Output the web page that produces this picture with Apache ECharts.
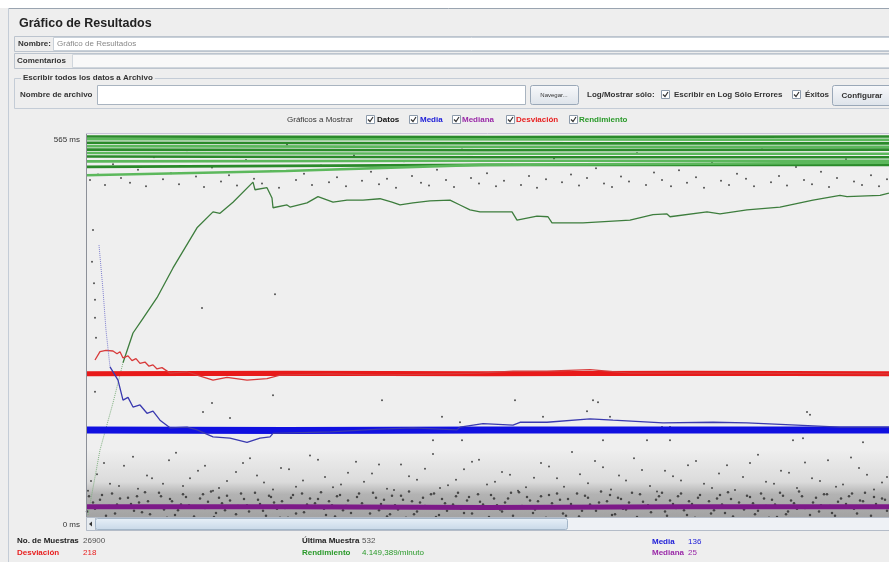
<!DOCTYPE html>
<html>
<head>
<meta charset="utf-8">
<title>Gráfico de Resultados</title>
<script src="https://cdn.jsdelivr.net/npm/echarts/dist/echarts.min.js"></script>
<style>body{margin:0;background:#eeeeee}</style>
</head>
<body>
<div id="main" style="width: 889px; height: 562px;"></div>
<script type="text/javascript">
// muestras (eje x, 0..803) y tiempos en ms (eje y, 0..565)
var ejeMax = 565;
var muestrasMax = 803;

// puntos negros (Datos)
var datosBajos = [[3,40],[9,22],[14,35],[20,12],[26,44],[31,28],[37,8],[42,38],[48,19],[53,31],[59,46],[64,14],[70,25],[75,40],[81,9],[86,33],[92,20],[97,43],[103,27],[108,11],[114,37],[119,23],[125,47],[130,16],[136,30],[141,41],[147,7],[152,26],[158,36],[163,18],[169,45],[174,29],[180,12],[185,39],[191,22],[196,33],[202,9],[207,42],[213,25],[218,17],[224,37],[229,30],[235,46],[240,13],[246,27],[251,40],[257,20],[262,34],[268,8],[273,44],[279,24],[284,15],[290,38],[295,29],[301,11],[306,41],[312,21],[317,35],[323,47],[328,14],[334,31],[339,26],[345,43],[350,10],[356,36],[361,19],[367,28],[372,45],[378,16],[383,39],[389,23],[394,32],[400,7],[405,42],[411,27],[416,18],[422,37],[427,12],[433,46],[438,25],[444,34],[449,21],[455,40],[460,9],[466,30],[471,44],[477,15],[482,36],[488,24],[493,11],[499,41],[504,28],[510,19],[515,47],[521,33],[526,13],[532,38],[537,22],[543,31],[548,8],[554,43],[559,26],[565,17],[570,35],[576,45],[581,12],[587,29],[592,40],[598,20],[603,33],[609,9],[614,42],[620,24],[625,15],[631,37],[636,28],[642,46],[647,11],[653,31],[658,21],[664,39],[669,14],[675,44],[680,26],[686,35],[691,10],[697,41],[702,18],[708,30],[713,47],[719,23],[724,13],[730,38],[735,27],[741,43],[746,16],[752,32],[757,8],[763,40],[768,22],[774,34],[779,45],[785,12],[790,29],[796,37],[801,19]];
var datosBajos2 = [[1,18],[7,31],[12,6],[16,42],[23,26],[29,15],[34,37],[40,4],[45,29],[51,40],[56,17],[62,33],[67,8],[73,45],[78,21],[84,36],[89,13],[95,28],[100,39],[106,5],[111,24],[117,43],[122,32],[128,10],[133,38],[139,20],[144,34],[150,14],[155,44],[161,27],[166,6],[172,35],[177,19],[183,41],[188,31],[194,9],[199,23],[205,38],[210,15],[216,44],[221,28],[227,5],[232,36],[238,22],[243,33],[249,11],[254,42],[260,26],[265,16],[271,39],[276,30],[282,7],[287,45],[293,20],[298,35],[304,14],[309,27],[315,41],[320,9],[326,33],[331,18],[337,38],[342,24],[348,44],[353,13],[359,30],[364,6],[370,40],[375,22],[381,34],[386,15],[392,43],[397,28],[403,10],[408,37],[414,21],[419,31],[425,45],[430,8],[436,26],[441,39],[447,16],[452,33],[458,5],[463,42],[469,23],[474,35],[480,12],[485,29],[491,44],[496,19],[502,38],[507,7],[513,31],[518,25],[524,42],[529,14],[535,36],[540,21],[546,45],[551,10],[557,32],[562,27],[568,6],[573,40],[579,18],[584,34],[590,23],[595,44],[601,13],[606,29],[612,38],[617,8],[623,33],[628,20],[634,42],[639,16],[645,36],[650,25],[656,5],[661,41],[667,30],[672,19],[678,37],[683,9],[689,28],[694,45],[700,14],[705,34],[711,22],[716,40],[722,7],[727,31],[733,18],[738,43],[744,26],[749,12],[755,37],[760,29],[766,44],[771,15],[777,33],[782,6],[788,39],[793,24],[799,35]];
var datosMedios = [[5,62],[18,88],[33,55],[47,97],[61,70],[77,58],[90,103],[104,66],[119,84],[133,52],[150,75],[164,95],[178,60],[195,81],[210,54],[224,99],[239,68],[255,57],[270,90],[286,73],[301,51],[315,86],[331,64],[347,101],[362,56],[378,79],[393,93],[409,61],[424,71],[440,53],[455,88],[471,66],[486,104],[502,59],[517,82],[533,70],[548,95],[564,55],[579,77],[595,63],[610,91],[626,52],[641,85],[657,68],[672,100],[688,58],[703,74],[719,89],[734,62],[750,54],[765,96],[781,71],[796,60]];
var datosMedios2 = [[2,48],[11,72],[24,58],[38,84],[52,51],[66,66],[83,92],[97,55],[112,77],[127,48],[141,62],[157,88],[171,70],[187,50],[203,79],[217,63],[232,93],[247,53],[262,74],[278,61],[293,86],[308,49],[323,69],[339,80],[354,52],[370,64],[386,90],[401,57],[416,75],[432,48],[448,67],[463,83],[478,54],[494,72],[509,91],[525,50],[540,63],[556,78],[571,47],[587,69],[602,85],[618,58],[633,73],[649,49],[664,88],[680,61],[695,77],[711,52],[726,66],[742,92],[757,57],[773,81],[788,50],[801,68]];
var datosDispersos = [[7,425],[6,379],[8,348],[9,324],[9,298],[10,269],[9,191],[116,312],[189,332],[117,162],[126,175],[144,153],[187,186],[296,179],[429,179],[507,179],[512,176],[501,163],[721,162],[724,158],[356,155],[457,155],[524,155],[374,147],[576,140],[584,140],[717,124],[347,121],[376,121],[517,121],[561,121],[584,121],[707,121],[777,118]];
var datosAltos = [[4,497],[12,505],[19,490],[27,520],[35,500],[44,493],[52,512],[60,488],[68,530],[77,498],[85,507],[93,491],[101,540],[110,502],[118,487],[126,515],[135,495],[143,504],[151,489],[160,526],[168,499],[176,492],[185,510],[193,486],[201,548],[210,497],[218,506],[226,490],[235,518],[243,494],[251,501],[260,488],[268,533],[276,496],[285,509],[293,491],[301,499],[310,486],[318,524],[326,503],[335,493],[343,489],[351,512],[360,497],[368,487],[376,541],[385,500],[393,492],[401,507],[410,488],[418,496],[426,519],[435,490],[443,503],[451,486],[460,498],[468,528],[476,494],[485,505],[493,489],[501,500],[510,514],[518,492],[526,487],[535,502],[543,495],[551,536],[560,490],[568,508],[576,497],[585,488],[593,511],[601,493],[610,501],[618,486],[626,522],[635,496],[643,490],[651,506],[660,499],[668,488],[676,544],[685,494],[693,503],[701,489],[710,516],[718,497],[726,491],[735,509],[743,487],[751,500],[760,527],[768,495],[776,490],[785,504],[793,488],[801,498]];

// bandas gruesas (pasadas repetidas)
var bandaDesviacion = [[0,217],[200,218],[400,217],[600,218],[803,217]];
var bandaMedia = [[0,136],[200,135],[400,136],[600,136],[803,136]];
var bandaMediana = [[0,25],[200,25],[400,24],[600,25],[803,25]];

// primera pasada
var desviacion = [[9,237],[14,249],[20,251],[27,250],[31,246],[34,249],[37,240],[42,243],[46,236],[50,239],[54,232],[59,234],[63,228],[67,230],[71,224],[76,226],[84,218],[101,220],[111,215],[127,208],[141,212],[161,208],[181,210],[194,215],[244,217],[294,215],[394,218],[427,221],[461,221],[504,223],[544,218],[594,218],[661,218],[803,217]];
var mediaInicio = [[13,403],[17,338],[20,280],[24,227]];
var media = [[24,227],[32,208],[37,179],[42,183],[47,169],[54,172],[61,160],[67,163],[74,150],[84,139],[101,140],[111,136],[127,126],[144,124],[161,118],[174,124],[184,126],[187,131],[244,133],[294,137],[327,139],[371,136],[374,140],[397,145],[427,143],[434,147],[461,147],[504,152],[527,150],[577,146],[627,147],[661,146],[711,143],[754,140],[803,140]];
var rendInicio = [[2,13],[14,107],[27,175],[37,233]];
var rendimiento = [[37,233],[47,276],[56,295],[71,327],[87,370],[111,428],[127,451],[134,449],[147,465],[167,494],[169,483],[181,486],[186,471],[187,457],[201,461],[204,458],[221,464],[232,473],[247,465],[261,468],[277,468],[294,470],[306,465],[314,461],[327,464],[344,467],[364,468],[374,461],[384,454],[394,451],[426,451],[431,439],[451,445],[462,444],[466,435],[497,435],[544,439],[567,447],[581,448],[584,444],[621,451],[634,448],[661,454],[694,458],[727,468],[754,475],[761,473],[794,475],[803,478]];

// pasadas del rendimiento arriba del todo
var rendPasadas = [
  [[0,560],[400,559],[803,560]],
  [[0,556],[300,556],[803,555]],
  [[0,551],[500,550],[803,550]],
  [[0,546],[400,545],[803,545]],
  [[0,541],[400,540],[803,541]],
  [[0,536],[400,535],[803,535]],
  [[0,531],[400,530],[803,530]],
  [[0,524],[400,525],[803,525]],
  [[0,516],[400,519],[803,519]],
  [[0,504],[200,510],[394,519],[803,522]]
];

var totales = {muestras: '26900', desviacion: '218', ultima: '532', rendimiento: '4.149,389/minuto', media: '136', mediana: '25'};

var fuente = '"Liberation Sans", Arial, sans-serif';

function texto(x, y, s, color, size, bold, extra) {
  var st = {text: s, fill: color || '#222', fontSize: size || 8, fontWeight: bold ? 'bold' : 'normal', fontFamily: fuente, verticalAlign: 'middle', align: 'left'};
  if (extra) for (var k in extra) st[k] = extra[k];
  return {type: 'text', x: x, y: y, z: 100, style: st};
}
function caja(x, y, w, h, fill, stroke, z) {
  return {type: 'rect', z: z || 50, shape: {x: x, y: y, width: w, height: h}, style: {fill: fill, stroke: stroke || null, lineWidth: 1}};
}
function linea(x1, y1, x2, y2, color) {
  return {type: 'line', z: 60, shape: {x1: x1, y1: y1, x2: x2, y2: y2}, style: {stroke: color, lineWidth: 1}};
}
function casilla(x, y) {
  return [
    caja(x + 0.5, y + 0.5, 8, 8, '#ffffff', '#8d9bab', 90),
    {type: 'polyline', z: 95, shape: {points: [[x + 2, y + 4.5], [x + 4, y + 6.5], [x + 7, y + 2]]}, style: {stroke: '#333', lineWidth: 1.2, fill: null}}
  ];
}
function boton(x, y, w, h, s, size) {
  return [
    {type: 'rect', z: 80, shape: {x: x + 0.5, y: y + 0.5, width: w, height: h, r: 2}, style: {
      fill: new echarts.graphic.LinearGradient(0, 0, 0, 1, [{offset: 0, color: '#f8f9fb'}, {offset: 1, color: '#dde3ea'}]),
      stroke: '#9aa8b8'}},
    texto(x + w / 2, y + h / 2 + 1, s, '#333', size, size > 7, {align: 'center'})
  ];
}

var g = [];
g.push(caja(0, 0, 889, 8, '#ffffff', null, 40));
g.push(linea(8, 8.5, 889, 8.5, '#9aa4b0'));
g.push(linea(8.5, 8, 8.5, 562, '#c4ccd6'));
g.push(texto(19, 24, 'Gráfico de Resultados', '#222', 12.5, true));
// Nombre
g.push(caja(14.5, 36.5, 875, 15, null, '#bcc4ce'));
g.push(texto(18, 44, 'Nombre:', '#333', 8, true));
g.push(caja(53.5, 37.5, 836, 13, '#ffffff', '#c8d0d8'));
g.push(texto(57, 44, 'Gráfico de Resultados', '#888', 8, false));
// Comentarios
g.push(caja(14.5, 53.5, 875, 15, null, '#bcc4ce'));
g.push(texto(17, 61, 'Comentarios', '#333', 8, true));
g.push(caja(72.5, 54.5, 817, 13, '#f8f8f8', '#d0d6dc'));
// Archivo
g.push(caja(14.5, 78.5, 875, 30, null, '#c4ccd6'));
g.push(texto(21, 78, 'Escribir todos los datos a Archivo', '#333', 8, true, {backgroundColor: '#eeeeee', padding: [0, 2]}));
g.push(texto(20, 95, 'Nombre de archivo', '#333', 8, true));
g.push(caja(97.5, 85.5, 428, 19, '#ffffff', '#a9b4c0'));
g = g.concat(boton(530, 85, 48, 19, 'Navegar...', 6));
g.push(texto(587, 95, 'Log/Mostrar sólo:', '#333', 8, true));
g = g.concat(casilla(661, 90));
g.push(texto(674, 95, 'Escribir en Log Sólo Errores', '#333', 8, true));
g = g.concat(casilla(792, 90));
g.push(texto(805, 95, 'Éxitos', '#333', 8, true));
g = g.concat(boton(832, 85, 60, 20, 'Configurar', 8));
// Graficos a mostrar
g.push(texto(287, 120, 'Gráficos a Mostrar', '#333', 8, false));
g = g.concat(casilla(366, 115));
g.push(texto(377, 120, 'Datos', '#111', 8, true));
g = g.concat(casilla(409, 115));
g.push(texto(420, 120, 'Media', '#2020d8', 8, true));
g = g.concat(casilla(452, 115));
g.push(texto(462, 120, 'Mediana', '#9a2aa8', 8, true));
g = g.concat(casilla(506, 115));
g.push(texto(516, 120, 'Desviación', '#e82020', 8, true));
g = g.concat(casilla(569, 115));
g.push(texto(579, 120, 'Rendimiento', '#2a9a2a', 8, true));
// marco del grafico
g.push(linea(86.5, 133, 86.5, 518, '#8c9098'));
g.push(linea(86, 133.5, 889, 133.5, '#c8c4d8'));
// barra de desplazamiento
g.push(caja(86.5, 517.5, 803, 13, '#eef1f5', '#b4bcc8', 100));
g.push(caja(86.5, 517.5, 9, 13, '#e6ebf0', '#b4bcc8', 101));
g.push({type: 'polygon', z: 102, shape: {points: [[89, 524], [92, 521.5], [92, 526.5]]}, style: {fill: '#333'}});
g.push({type: 'rect', z: 101, shape: {x: 95.5, y: 518.5, width: 472, height: 11, r: 2}, style: {
  fill: new echarts.graphic.LinearGradient(0, 0, 0, 1, [{offset: 0, color: '#e8f0f8'}, {offset: 1, color: '#c8d8e8'}]),
  stroke: '#a4b6c8'}});
g.push(linea(331.5, 521, 331.5, 527, '#9fb0c2'));
// totales
g.push(texto(17, 541, 'No. de Muestras', '#222', 8, true));
g.push(texto(83, 541, totales.muestras, '#555', 8, false));
g.push(texto(17, 553, 'Desviación', '#e82020', 8, true));
g.push(texto(83, 553, totales.desviacion, '#e82020', 8, false));
g.push(texto(302, 541, 'Última Muestra', '#222', 8, true));
g.push(texto(362, 541, totales.ultima, '#555', 8, false));
g.push(texto(302, 553, 'Rendimiento', '#2a9a2a', 8, true));
g.push(texto(362, 553, totales.rendimiento, '#2a9a2a', 8, false));
g.push(texto(652, 542, 'Media', '#2020d8', 8, true));
g.push(texto(688, 542, totales.media, '#2020d8', 8, false));
g.push(texto(652, 553, 'Mediana', '#9a2aa8', 8, true));
g.push(texto(688, 553, totales.mediana, '#9a2aa8', 8, false));

function serieLinea(name, data, color, width, type) {
  return {name: name, type: 'line', data: data, symbol: 'none', silent: true,
    lineStyle: {color: color, width: width, type: type || 'solid'}};
}
function serieDatos(data, size, extra) {
  var s = {name: 'Datos', type: 'scatter', data: data, symbolSize: size, silent: true,
    itemStyle: {color: '#2a2a2a', opacity: 0.8}};
  if (extra) for (var k in extra) s[k] = extra[k];
  return s;
}

// sombra de densidad bajo los puntos de tiempos cortos
var sombra = new echarts.graphic.LinearGradient(0, 0, 0, 1, [
  {offset: 0, color: 'rgba(40,40,40,0)'},
  {offset: 0.45, color: 'rgba(40,40,40,0.10)'},
  {offset: 0.62, color: 'rgba(40,40,40,0.30)'},
  {offset: 1, color: 'rgba(40,40,40,0.40)'}
]);

var series = [
  serieDatos(datosBajos, 2.5, {markArea: {silent: true, data: [
    [{yAxis: 3, itemStyle: {color: sombra}}, {yAxis: 108}]
  ]}}),
  serieDatos(datosBajos2, 2.5),
  serieDatos(datosMedios, 2),
  serieDatos(datosMedios2, 2),
  serieDatos(datosDispersos, 2),
  serieDatos(datosAltos, 2)
];
var verdes = ['#2a8a2a', '#5cb85c'];
for (var i = 0; i < rendPasadas.length; i++) {
  series.push(serieLinea('Rendimiento', rendPasadas[i], verdes[i % 2], 2.6));
}
series.push(serieLinea('Rendimiento', rendInicio, '#7fb07f', 1, 'dotted'));
series.push(serieLinea('Rendimiento', rendimiento, '#3d7d3d', 1.3));
series.push(serieLinea('Desviación', bandaDesviacion, '#e81a1a', 5));
series.push(serieLinea('Desviación', desviacion, '#d83a3a', 1.3));
series.push(serieLinea('Media', bandaMedia, '#1010e0', 7));
series.push(serieLinea('Media', mediaInicio, '#8080d0', 1, 'dotted'));
series.push(serieLinea('Media', media, '#3a3ab0', 1.3));
series.push(serieLinea('Mediana', bandaMediana, '#7d1a88', 5));

var myChart = echarts.init(document.getElementById('main'));
var option = {
  backgroundColor: '#eeeeee',
  animation: false,
  grid: {left: 86, right: 0, top: 133, bottom: 38, show: true, backgroundColor: '#efefef', borderWidth: 0},
  xAxis: {type: 'value', min: 0, max: muestrasMax, show: false},
  yAxis: {
    type: 'value', min: 0, max: ejeMax, interval: ejeMax,
    axisLine: {show: false}, axisTick: {show: false}, splitLine: {show: false},
    axisLabel: {
      margin: 6, color: '#333', fontSize: 8, fontFamily: fuente,
      formatter: function (v) { return v === ejeMax ? '{arriba|' + v + ' ms}' : '{abajo|' + v + ' ms}'; },
      rich: {arriba: {padding: [14, 0, 0, 0], fontSize: 8, color: '#333'}, abajo: {padding: [2, 0, 0, 0], fontSize: 8, color: '#333'}}
    }
  },
  graphic: g,
  series: series
};
myChart.setOption(option);
</script>
</body>
</html>
